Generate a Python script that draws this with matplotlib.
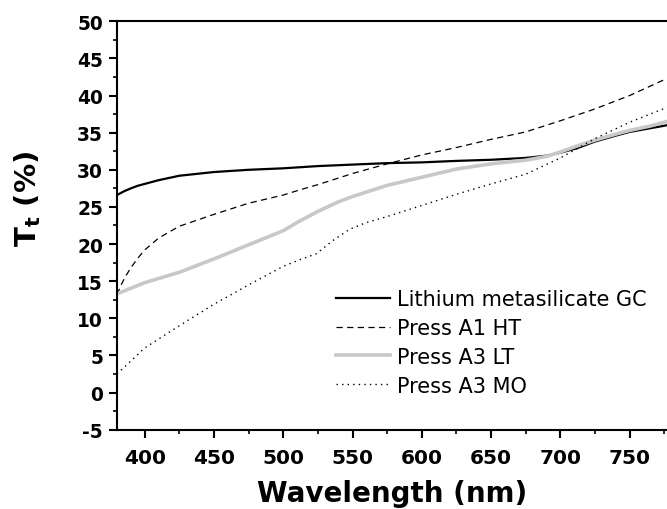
"""Total transmittance spectra of the glass-ceramic samples."""

import matplotlib

matplotlib.use("Agg")
import matplotlib.pyplot as plt
from matplotlib.ticker import MultipleLocator

plt.rcParams["font.family"] = ["DejaVu Sans"]
plt.rcParams["mathtext.fontset"] = "dejavusans"
plt.rcParams["axes.unicode_minus"] = False

# Lithium metasilicate GC
wl_gc = [380, 385, 390, 395, 400, 410, 425, 450, 475, 500, 525, 550, 575, 600, 625, 650, 675, 690, 700, 712, 725, 740, 750, 765, 777]
tt_gc = [26.6, 27.1, 27.5, 27.85, 28.1, 28.6, 29.2, 29.7, 30.0, 30.2, 30.5, 30.7, 30.9, 31.0, 31.2, 31.35, 31.6, 31.9, 32.3, 32.9, 33.8, 34.6, 35.1, 35.6, 36.0]

# Press A1 HT
wl_a1ht = [380, 383, 386, 390, 395, 400, 405, 410, 425, 450, 475, 500, 512, 525, 550, 575, 600, 625, 650, 675, 700, 725, 750, 777]
tt_a1ht = [13.2, 14.5, 15.6, 16.8, 18.1, 19.2, 20.0, 20.8, 22.4, 24.0, 25.5, 26.6, 27.3, 28.0, 29.5, 30.8, 32.0, 33.0, 34.1, 35.1, 36.6, 38.2, 40.0, 42.3]

# Press A3 LT
wl_a3lt = [380, 400, 425, 450, 475, 500, 510, 525, 540, 550, 560, 575, 600, 625, 650, 675, 690, 700, 712, 725, 740, 750, 765, 777]
tt_a3lt = [13.3, 14.8, 16.2, 18.0, 19.9, 21.8, 22.9, 24.4, 25.7, 26.4, 27.0, 27.9, 29.0, 30.1, 30.8, 31.3, 31.8, 32.4, 33.2, 34.0, 34.8, 35.3, 35.9, 36.5]

# Press A3 MO
wl_a3mo = [380, 400, 425, 450, 475, 500, 512, 524, 536, 548, 560, 575, 600, 625, 650, 675, 700, 725, 750, 777]
tt_a3mo = [2.5, 6.0, 9.0, 11.9, 14.5, 17.0, 17.9, 18.7, 20.5, 22.0, 22.9, 23.7, 25.2, 26.7, 28.1, 29.4, 31.6, 34.2, 36.4, 38.4]

fig = plt.figure(figsize=(6.67, 5.10), dpi=100)
ax = fig.add_axes([0.1754, 0.1555, 0.8246, 0.8008])

ax.plot(wl_gc, tt_gc, color="black", lw=1.6, label="Lithium metasilicate GC")
ax.plot(wl_a1ht, tt_a1ht, color="black", lw=0.9, ls=(0, (5, 3.5)), label="Press A1 HT")
ax.plot(wl_a3lt, tt_a3lt, color="#c8c8c8", lw=2.6, label="Press A3 LT")
ax.plot(wl_a3mo, tt_a3mo, color="black", lw=1.0, ls=(0, (1, 3)), label="Press A3 MO")

ax.set_xlim(380, 777)
ax.set_ylim(-5, 50)
ax.xaxis.set_minor_locator(MultipleLocator(25))
ax.yaxis.set_major_locator(MultipleLocator(5))
ax.yaxis.set_minor_locator(MultipleLocator(2.5))
ax.set_xticks(range(400, 776, 50))

for side in ("left", "bottom", "top"):
    ax.spines[side].set_linewidth(1.5)
ax.spines["right"].set_visible(False)

ax.tick_params(which="major", direction="out", length=6, width=1.5, labelsize=13.4, pad=4)
ax.tick_params(which="minor", direction="out", length=3, width=1.2)
ax.tick_params(axis="x", which="major", labelsize=14.5, pad=7)
for lbl in ax.get_xticklabels() + ax.get_yticklabels():
    lbl.set_fontweight("bold")

ax.set_xlabel("Wavelength (nm)", fontsize=20, fontweight="bold", labelpad=9)
ax.set_ylabel(r"$\mathbf{T_t}$ (%)", fontsize=21, fontweight="bold")
ax.yaxis.set_label_coords(-0.134, 0.567)

ax.legend(loc="lower right", bbox_to_anchor=(0.99, 0.048), frameon=False, fontsize=15,
          handlelength=2.6, handletextpad=0.35, labelspacing=0.42, borderaxespad=0.3)

fig.savefig("out.png", dpi=100)
plt.close(fig)
